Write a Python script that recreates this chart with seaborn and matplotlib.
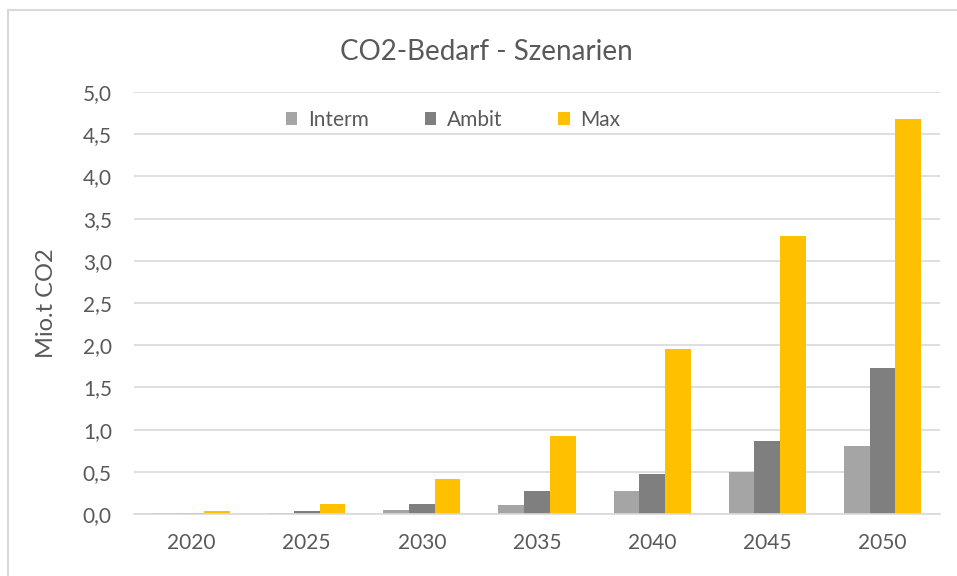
import matplotlib
matplotlib.use("Agg")
import matplotlib.pyplot as plt
import seaborn as sns
import pandas as pd
from matplotlib.ticker import FuncFormatter, MultipleLocator
from matplotlib.lines import Line2D
from matplotlib.patches import Patch

# CO2 demand per scenario (million tonnes)
years = ["2020", "2025", "2030", "2035", "2040", "2045", "2050"]
interm = [0.01, 0.01, 0.05, 0.11, 0.27, 0.50, 0.81]
ambit = [0.01, 0.03, 0.12, 0.27, 0.47, 0.87, 1.73]
maxi = [0.03, 0.12, 0.42, 0.93, 1.95, 3.29, 4.68]
series = ["Interm", "Ambit", "Max"]
colors = ["#A5A5A5", "#7F7F7F", "#FFC000"]

df = pd.DataFrame({
    "Jahr": years * 3,
    "Wert": interm + ambit + maxi,
    "Szenario": [s for s in series for _ in years],
})

sns.set_theme(style="white")
plt.rcParams["font.family"] = ["Lato", "DejaVu Sans"]
txt = "#595959"
grid = "#D9D9D9"

fig = plt.figure(figsize=(9.57, 5.76), dpi=100)
ax = fig.add_axes([134 / 957, 1 - 514 / 576, 806 / 957, 422 / 576])

sns.barplot(data=df, x="Jahr", y="Wert", hue="Szenario", hue_order=series,
            palette=colors, saturation=1, width=0.67, linewidth=0,
            legend=False, ax=ax)

ax.set_ylim(0, 5)
ax.yaxis.set_major_locator(MultipleLocator(0.5))
ax.yaxis.set_major_formatter(FuncFormatter(lambda v, p: f"{v:.1f}".replace(".", ",")))
ax.yaxis.grid(True, color=grid, lw=1.2)
ax.set_axisbelow(True)
for s in ["top", "right", "left"]:
    ax.spines[s].set_visible(False)
ax.spines["bottom"].set_color(grid)
ax.spines["bottom"].set_linewidth(1.2)
ax.tick_params(axis="both", length=0, labelsize=15, labelcolor=txt)
ax.tick_params(axis="y", pad=16)
ax.tick_params(axis="x", pad=14)
ax.set_xlabel("")
ax.set_ylabel("Mio.t CO2", fontsize=17, color=txt)
ax.yaxis.set_label_coords(-0.0955, 0.5)

handles = [Patch(facecolor=c, edgecolor="none", label=s) for s, c in zip(series, colors)]
fig.legend(handles=handles, loc="center", bbox_to_anchor=(453 / 957, 1 - 120 / 576),
           ncol=3, frameon=False, fontsize=15, labelcolor=txt,
           handlelength=0.55, handleheight=0.55, handletextpad=0.5,
           columnspacing=2.7)

fig.text(486 / 957, 1 - 52 / 576, "CO2-Bedarf - Szenarien", ha="center", va="center",
         fontsize=20, color=txt)

# chart area frame
fig.add_artist(Line2D([8 / 957, 8 / 957], [0, 1 - 10 / 576], transform=fig.transFigure,
                      color=grid, lw=1.5))
fig.add_artist(Line2D([8 / 957, 1], [1 - 10 / 576, 1 - 10 / 576], transform=fig.transFigure,
                      color=grid, lw=1.5))

fig.savefig("out.png", dpi=100, facecolor="white")
